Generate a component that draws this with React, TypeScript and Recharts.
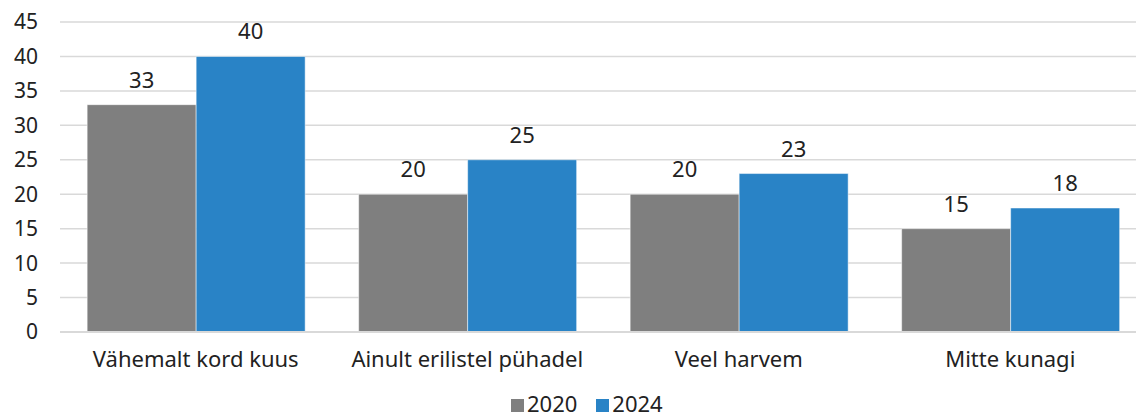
import React from 'react';
import { BarChart, Bar, XAxis, YAxis, CartesianGrid, Legend, LabelList } from 'recharts';

const categories = ['Vähemalt kord kuus', 'Ainult erilistel pühadel', 'Veel harvem', 'Mitte kunagi'];
const values2020 = [33, 20, 20, 15];
const values2024 = [40, 25, 23, 18];
const yTicks = [0, 5, 10, 15, 20, 25, 30, 35, 40, 45];

const data = categories.map((name, i) => ({ name, y2020: values2020[i], y2024: values2024[i] }));

const FONT = '"Noto Sans", sans-serif';
const TEXT = '#222222';
const GRAY = '#7f7f7f';
const BLUE = '#2983c6';

const legendItems = [
  { label: '2020', color: GRAY },
  { label: '2024', color: BLUE },
];

const LegendContent = () => (
  <div style={{ display: 'flex', alignItems: 'flex-start', paddingLeft: 511, height: 26, fontSize: 22, color: TEXT, fontFamily: FONT, lineHeight: '22px' }}>
    {legendItems.map((it) => (
      <div key={it.label} style={{ display: 'flex', alignItems: 'center', marginRight: 19 }}>
        <span style={{ display: 'inline-block', width: 13, height: 13, background: it.color, marginRight: 3, marginTop: 4 }} />
        <span>{it.label}</span>
      </div>
    ))}
  </div>
);

const App: React.FC = () => {
  return (
    <div style={{ position: 'fixed', left: 0, top: 0, width: 1136, height: 418, overflow: 'hidden', background: '#fff', fontFamily: FONT }}>
      <BarChart
        width={1146}
        height={418}
        data={data}
        margin={{ top: 22, right: 0, left: 0, bottom: 0 }}
        barCategoryGap="10%"
        barGap={0}
      >
        <CartesianGrid vertical={false} stroke="#d9d9d9" strokeWidth={1.5} />
        <XAxis
          dataKey="name"
          axisLine={{ stroke: '#d9d9d9', strokeWidth: 2 }}
          tickLine={false}
          height={60}
          tick={{ fontSize: 22, fill: TEXT, fontFamily: FONT }}
          tickMargin={13}
          interval={0}
        />
        <YAxis
          domain={[0, 45]}
          ticks={yTicks}
          interval={0}
          axisLine={false}
          tickLine={false}
          width={60}
          tickMargin={16}
          tick={{ fontSize: 21, fill: TEXT, fontFamily: FONT }}
        />
        <Legend verticalAlign="bottom" height={26} content={<LegendContent />} />
        <Bar dataKey="y2020" name="2020" fill={GRAY} stroke="#ffffff" strokeWidth={0.5} isAnimationActive={false}>
          <LabelList dataKey="y2020" position="top" offset={17} style={{ fontSize: 22, fill: TEXT, fontFamily: FONT }} />
        </Bar>
        <Bar dataKey="y2024" name="2024" fill={BLUE} stroke="#ffffff" strokeWidth={0.5} isAnimationActive={false}>
          <LabelList dataKey="y2024" position="top" offset={17} style={{ fontSize: 22, fill: TEXT, fontFamily: FONT }} />
        </Bar>
      </BarChart>
    </div>
  );
};

export default App;
